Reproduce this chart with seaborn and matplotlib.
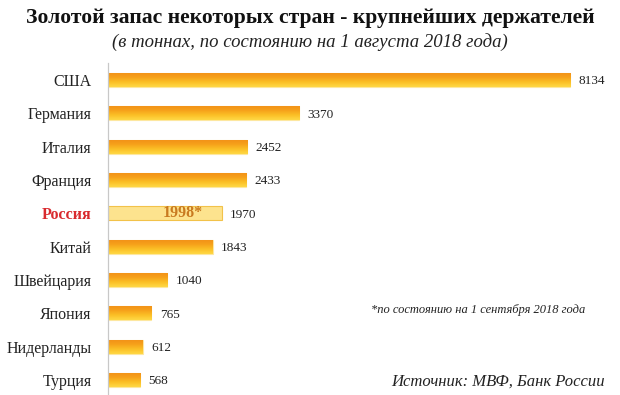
#!/usr/bin/env python3
"""
Gold reserves of the largest holders, horizontal bar chart with gradient bars
"""
import numpy as np
import pandas as pd
import matplotlib.pyplot as plt
import matplotlib.colors as mcolors
import seaborn as sns

countries = ["США", "Германия", "Италия", "Франция", "Россия",
             "Китай", "Швейцария", "Япония", "Нидерланды", "Турция"]
tonnes = [8134, 3370, 2452, 2433, 1998, 1843, 1040, 765, 612, 568]
value_labels = ["8134", "3370", "2452", "2433", "1970",
                "1843", "1040", "765", "612", "568"]
russia_inner_label = "1998*"

title = "Золотой запас некоторых стран - крупнейших держателей"
subtitle = "(в тоннах, по состоянию на 1 августа 2018 года)"
footnote = "*по состоянию на 1 сентября 2018 года"
source = "Источник: МВФ, Банк России"

sns.set_style("white")
plt.rcParams['font.family'] = ['Liberation Serif', 'DejaVu Serif']

df = pd.DataFrame({"country": countries, "tonnes": tonnes})

fig = plt.figure(figsize=(6.2, 3.95), dpi=100)
ax = fig.add_axes([108 / 620, -0.0043, 492 / 620, 0.8440])

sns.barplot(data=df, x="tonnes", y="country", orient="h", width=0.42,
            color="#f7a81e", ax=ax)

xmax = 8660
ylim = (len(countries) - 0.5, -0.5)

# Gradient fill: orange on top, yellow at the bottom
grad = mcolors.LinearSegmentedColormap.from_list(
    "gold", ["#f29018", "#f6a01a", "#fbbf26", "#ffd845"])
gvals = np.linspace(0, 1, 64).reshape(-1, 1)
for i, patch in enumerate(ax.patches):
    x0, y0 = patch.get_x(), patch.get_y()
    w, h = patch.get_width(), patch.get_height()
    if countries[i] == "Россия":
        patch.set_facecolor("#fde38e")
        patch.set_edgecolor("#f2c24a")
        patch.set_linewidth(0.8)
        continue
    patch.set_facecolor("none")
    patch.set_edgecolor("#fde7a0")
    patch.set_linewidth(0.8)
    im = ax.imshow(gvals, cmap=grad, aspect="auto",
                   extent=[x0, x0 + w, y0 + h, y0], zorder=2)
    im.set_clip_path(patch)

ax.set_xlim(0, xmax)
ax.set_ylim(*ylim)

# Value labels
for i, lab in enumerate(value_labels):
    ax.annotate(lab, (tonnes[i], i), xytext=(6, -1), textcoords="offset points",
                ha="left", va="center", fontsize=9.5, color="#222222")

ri = countries.index("Россия")
ax.text(1320, ri, russia_inner_label, ha="center", va="center",
        fontsize=11.5, fontweight="bold", color="#c97a20")

# Axes styling
for s in ["top", "right", "bottom"]:
    ax.spines[s].set_visible(False)
ax.spines["left"].set_color("#c8c8c8")
ax.spines["left"].set_linewidth(0.9)
ax.set_xticks([])
ax.set_xlabel("")
ax.set_ylabel("")
ax.tick_params(axis="y", which="major", length=0, pad=12, labelsize=11.5,
               labelcolor="#222222")
ax.set_yticks(np.arange(len(countries) - 1) + 0.5, minor=True)
ax.tick_params(axis="y", which="minor", length=4, color="#c8c8c8", width=0.9,
               direction="out")
for lab in ax.get_yticklabels():
    if lab.get_text() == "Россия":
        lab.set_color("#d92a2e")
        lab.set_fontweight("bold")

fig.text(0.5, 1 - 18 / 395, title, ha="center", va="center",
         fontsize=15.6, fontweight="bold", color="#111111")
fig.text(0.5, 1 - 42 / 395, subtitle, ha="center", va="center",
         fontsize=13.5, fontstyle="italic", color="#222222")
fig.text(478 / 620, 1 - 310 / 395, footnote, ha="center", va="center",
         fontsize=9, fontstyle="italic", color="#222222")
fig.text(498 / 620, 1 - 382 / 395, source, ha="center", va="center",
         fontsize=12, fontstyle="italic", color="#222222")

plt.savefig("out.png", dpi=100)
